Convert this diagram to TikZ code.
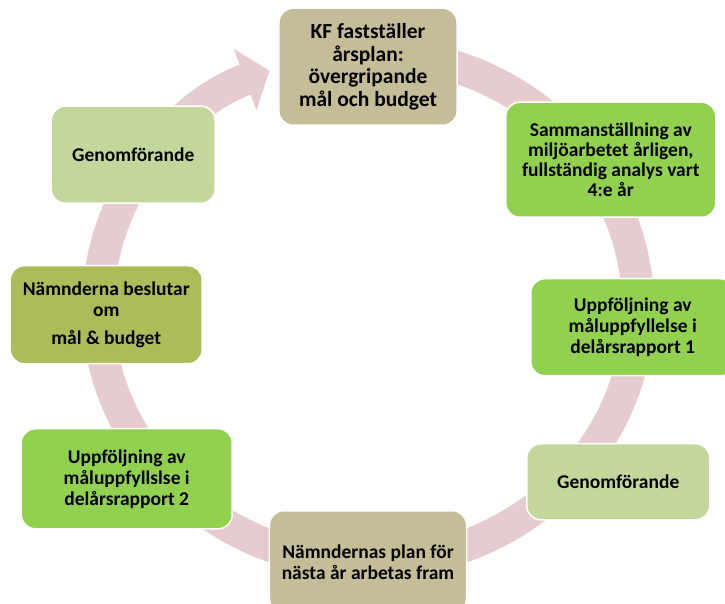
\documentclass[tikz,border=0pt]{standalone}
\usepackage{fontspec}
\setmainfont{Carlito}
\usetikzlibrary{positioning,arrows.meta}
\definecolor{tancolor}{RGB}{196,189,151}
\definecolor{greencolor}{RGB}{146,208,80}
\definecolor{lightcolor}{RGB}{195,214,155}
\definecolor{olivecolor}{RGB}{174,187,89}
\definecolor{ringcolor}{RGB}{230,204,207}

\begin{document}
\begin{tikzpicture}[
	box/.style={rectangle, rounded corners=14pt, draw=white, line width=1.5pt, align=center, inner sep=4pt, font=\bfseries\fontsize{19.5}{21}\selectfont},
	ring/.style={draw=ringcolor, line width=32pt, -{Triangle[length=26pt,width=64pt]}}]

				\useasboundingbox (-368pt,-296pt) rectangle (357pt,308pt);
				\clip (-368pt,-296pt) rectangle (357pt,308pt);
				\coordinate (hub) at (0,0);

				% the cycle behind the boxes
				\draw[ring] (hub) ++(80:270pt and 255pt) arc[start angle=80, end angle=-248.6, x radius=270pt, y radius=255pt];

				\node[box, minimum width=178pt, minimum height=117pt, fill=tancolor, font=\bfseries\fontsize{21.5}{22.7}\selectfont] (kf) [above=182pt of hub] {KF fastställer\\årsplan:\\övergripande\\mål och budget};
				\node[box, minimum width=210pt, minimum height=115pt, fill=greencolor, font=\bfseries\fontsize{19.5}{20}\selectfont] (summary) [above right=90pt and 137pt of hub] {Sammanställning av\\miljöarbetet årligen,\\fullständig analys vart\\4:e år};
				\node[box, minimum width=204pt, minimum height=97pt, fill=greencolor] (report1) [below right=-30pt and 162pt of hub] {Uppföljning av\\måluppfyllelse i\\delårsrapport 1};
				\node[box, minimum width=183pt, minimum height=76pt, fill=lightcolor] (doright) [below right=135pt and 158pt of hub] {Genomförande};
				\node[box, minimum width=197pt, minimum height=102pt, fill=tancolor] (plan) [below=202pt of hub] {Nämndernas plan för\\nästa år arbetas fram};
				\node[box, minimum width=211pt, minimum height=100pt, fill=greencolor] (report2) [below left=120pt and 135pt of hub] {Uppföljning av\\måluppfyllslse i\\delårsrapport 2};
				\node[box, minimum width=192pt, minimum height=98pt, fill=olivecolor] (decide) [below left=-43pt and 165pt of hub] {Nämnderna beslutar\\om\\[7pt]mål \& budget};
				\node[box, minimum width=164pt, minimum height=97pt, fill=lightcolor] (doleft) [above left=104pt and 152pt of hub] {Genomförande};

			\end{tikzpicture}
\end{document}
